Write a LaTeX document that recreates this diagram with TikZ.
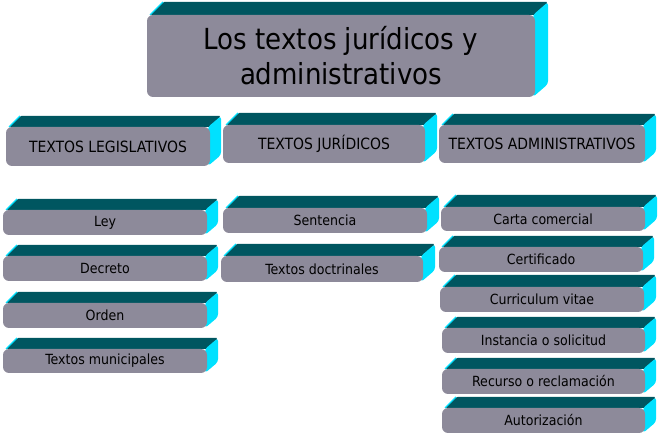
\documentclass[tikz,border=0pt]{standalone}
\usepackage{fontspec}
\setmainfont{DejaVu Sans Condensed}
\definecolor{frontgray}{RGB}{141,138,154}
\definecolor{topteal}{RGB}{0,86,96}
\definecolor{sidecyan}{RGB}{0,225,255}
\tikzset{
  front/.style={fill=frontgray, rounded corners=6pt, inner sep=0pt, text=black, align=center},
  topface/.style={fill=topteal, rounded corners=1.5pt},
  sideface/.style={fill=sidecyan, rounded corners=3pt},
  edgeglint/.style={draw=sidecyan, line width=1.2pt},
  titlefont/.style={font=\fontsize{29}{35}\selectfont},
  headfont/.style={font=\fontsize{15.5}{18}\selectfont},
  itemfont/.style={font=\fontsize{14}{16}\selectfont},
}
% #1 name, #2 x1, #3 y1, #4 x2, #5 y2, #6 depth, #7 font style, #8 text
\newcommand\slab[8]{%
  \fill[topface] (#2+3,#3) -- (#2+3+#6,#3-#6) -- (#4+#6,#3-#6) -- (#4,#3) -- cycle;
  \draw[edgeglint] (#2+3,#3) -- (#2+3+#6,#3-#6);
  \fill[sideface] (#4-2,#3) -- (#4+#6,#3-#6) -- (#4+#6,#5-#6) -- (#4-2,#5) -- cycle;
  \pgfmathsetmacro\slabW{#4-#2}%
  \pgfmathsetmacro\slabH{#5-#3}%
  \node[front, #7, minimum width=\slabW pt, minimum height=\slabH pt] (#1) at ({(#2+#4)/2},{(#3+#5)/2}) {#8};
}
\begin{document}
\begin{tikzpicture}[x=1pt,y=-1pt]
\useasboundingbox (0,0) rectangle (659,435);
\slab{title}{147}{15}{535}{97}{13}{titlefont}{Los textos jurídicos y\\administrativos}
\slab{leg}{6}{127}{210}{166}{11}{headfont}{TEXTOS LEGISLATIVOS}
\slab{jur}{223}{125}{425}{163}{12}{headfont}{TEXTOS JURÍDICOS}
\slab{adm}{439}{125}{645}{163}{11}{headfont}{TEXTOS ADMINISTRATIVOS}
\slab{ley}{3}{210}{207}{235}{11}{itemfont}{Ley}
\slab{decreto}{3}{256}{207}{281}{11}{itemfont}{Decreto}
\slab{orden}{3}{303}{207}{328}{11}{itemfont}{Orden}
\slab{municipales}{3}{349}{207}{373}{11}{itemfont}{Textos municipales}
\slab{sentencia}{223}{208}{427}{233}{12}{itemfont}{Sentencia}
\slab{doctrinales}{221}{256}{423}{282}{12}{itemfont}{Textos doctrinales}
\slab{carta}{441}{207}{645}{231}{12}{itemfont}{Carta comercial}
\slab{certificado}{439}{247}{643}{272}{11}{itemfont}{Certificado}
\slab{curriculum}{440}{287}{644}{312}{12}{itemfont}{Curriculum vitae}
\slab{instancia}{442}{328}{645}{353}{11}{itemfont}{Instancia o solicitud}
\slab{recurso}{442}{369}{645}{394}{11}{itemfont}{Recurso o reclamación}
\slab{autorizacion}{442}{408}{645}{433}{11}{itemfont}{Autorización}
\end{tikzpicture}
\end{document}
